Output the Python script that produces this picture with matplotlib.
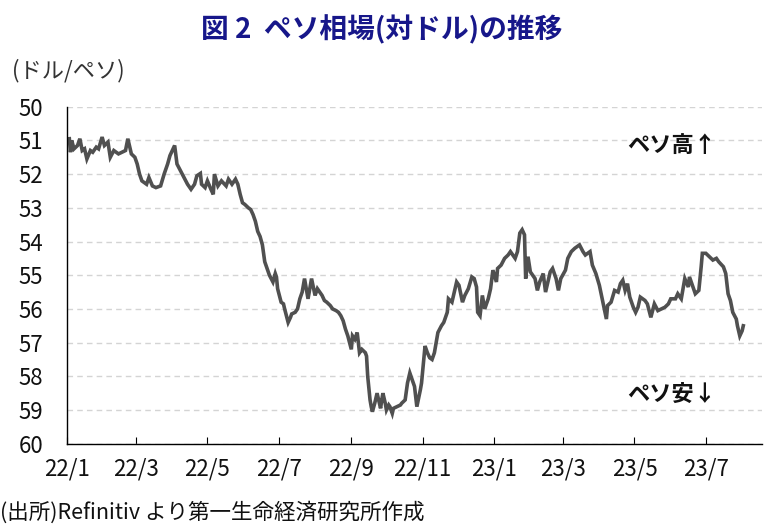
import matplotlib
matplotlib.use("Agg")

import matplotlib.pyplot as plt
import pandas as pd

plt.rcParams["font.family"] = ["Noto Sans CJK JP", "DejaVu Sans"]

# USD/PHP (peso per dollar)
DATES = [
    "2022-01-03", "2022-01-04", "2022-01-05", "2022-01-07", "2022-01-10", "2022-01-12",
    "2022-01-14", "2022-01-16", "2022-01-18", "2022-01-21", "2022-01-23", "2022-01-26",
    "2022-01-28", "2022-01-31", "2022-02-02", "2022-02-05", "2022-02-07", "2022-02-10",
    "2022-02-14", "2022-02-17", "2022-02-20", "2022-02-22", "2022-02-25", "2022-02-28",
    "2022-03-02", "2022-03-04", "2022-03-06", "2022-03-10", "2022-03-12", "2022-03-15",
    "2022-03-18", "2022-03-22", "2022-03-25", "2022-03-28", "2022-03-30", "2022-04-03",
    "2022-04-05", "2022-04-08", "2022-04-11", "2022-04-14", "2022-04-17", "2022-04-20",
    "2022-04-22", "2022-04-25", "2022-04-26", "2022-04-29", "2022-05-01", "2022-05-04",
    "2022-05-06", "2022-05-07", "2022-05-10", "2022-05-13", "2022-05-17", "2022-05-19",
    "2022-05-22", "2022-05-25", "2022-05-27", "2022-05-29", "2022-05-31", "2022-06-02",
    "2022-06-05", "2022-06-07", "2022-06-09", "2022-06-11", "2022-06-13", "2022-06-15",
    "2022-06-17", "2022-06-19", "2022-06-22", "2022-06-23", "2022-06-26", "2022-06-28",
    "2022-06-29", "2022-06-30", "2022-07-03", "2022-07-05", "2022-07-06", "2022-07-09",
    "2022-07-11", "2022-07-12", "2022-07-15", "2022-07-17", "2022-07-19", "2022-07-21",
    "2022-07-23", "2022-07-26", "2022-07-28", "2022-07-29", "2022-08-01", "2022-08-03",
    "2022-08-05", "2022-08-07", "2022-08-09", "2022-08-11", "2022-08-14", "2022-08-16",
    "2022-08-19", "2022-08-21", "2022-08-23", "2022-08-25", "2022-08-27", "2022-08-29",
    "2022-09-01", "2022-09-02", "2022-09-04", "2022-09-06", "2022-09-08", "2022-09-10",
    "2022-09-13", "2022-09-14", "2022-09-15", "2022-09-17", "2022-09-18", "2022-09-19",
    "2022-09-21", "2022-09-23", "2022-09-25", "2022-09-26", "2022-09-27", "2022-09-28",
    "2022-09-30", "2022-10-01", "2022-10-03", "2022-10-04", "2022-10-06", "2022-10-07",
    "2022-10-10", "2022-10-13", "2022-10-14", "2022-10-17", "2022-10-19", "2022-10-21",
    "2022-10-23", "2022-10-25", "2022-10-27", "2022-10-30", "2022-10-31", "2022-11-03",
    "2022-11-05", "2022-11-07", "2022-11-09", "2022-11-11", "2022-11-14", "2022-11-17",
    "2022-11-19", "2022-11-22", "2022-11-23", "2022-11-26", "2022-11-28", "2022-11-30",
    "2022-12-02", "2022-12-05", "2022-12-07", "2022-12-10", "2022-12-13", "2022-12-15",
    "2022-12-17", "2022-12-18", "2022-12-20", "2022-12-22", "2022-12-24", "2022-12-27",
    "2022-12-29", "2022-12-31", "2023-01-03", "2023-01-04", "2023-01-07", "2023-01-10",
    "2023-01-13", "2023-01-15", "2023-01-19", "2023-01-21", "2023-01-23", "2023-01-25",
    "2023-01-27", "2023-01-28", "2023-01-30", "2023-02-01", "2023-02-05", "2023-02-07",
    "2023-02-09", "2023-02-12", "2023-02-14", "2023-02-18", "2023-02-20", "2023-02-23",
    "2023-02-25", "2023-02-27", "2023-03-03", "2023-03-05", "2023-03-08", "2023-03-11",
    "2023-03-15", "2023-03-18", "2023-03-20", "2023-03-24", "2023-03-26", "2023-03-29",
    "2023-04-01", "2023-04-04", "2023-04-07", "2023-04-08", "2023-04-11", "2023-04-14",
    "2023-04-17", "2023-04-19", "2023-04-21", "2023-04-23", "2023-04-25", "2023-04-27",
    "2023-04-30", "2023-05-02", "2023-05-04", "2023-05-06", "2023-05-10", "2023-05-12",
    "2023-05-15", "2023-05-18", "2023-05-21", "2023-05-24", "2023-05-27", "2023-05-30",
    "2023-06-01", "2023-06-05", "2023-06-07", "2023-06-10", "2023-06-13", "2023-06-16",
    "2023-06-17", "2023-06-20", "2023-06-22", "2023-06-25", "2023-06-27", "2023-06-28",
    "2023-07-01", "2023-07-04", "2023-07-07", "2023-07-10", "2023-07-12", "2023-07-16",
    "2023-07-18", "2023-07-20", "2023-07-22", "2023-07-24", "2023-07-27", "2023-07-28",
    "2023-07-30", "2023-08-01", "2023-08-02",
]
RATES = [
    50.95, 51.35, 51.00, 51.25, 51.15, 50.95,
    51.30, 51.25, 51.55, 51.30, 51.35, 51.20,
    51.25, 50.90, 51.15, 51.05, 51.50, 51.30,
    51.40, 51.35, 51.30, 50.95, 51.40, 51.50,
    51.70, 52.00, 52.20, 52.30, 52.10, 52.35,
    52.40, 52.35, 52.00, 51.70, 51.45, 51.15,
    51.70, 51.90, 52.10, 52.30, 52.45, 52.30,
    52.05, 51.98, 52.30, 52.40, 52.20, 52.45,
    52.60, 52.00, 52.35, 52.20, 52.35, 52.15,
    52.30, 52.15, 52.30, 52.60, 52.85, 52.90,
    53.00, 53.05, 53.20, 53.40, 53.70, 53.85,
    54.10, 54.60, 54.90, 55.00, 55.20, 54.95,
    55.05, 55.40, 55.80, 55.85, 56.00, 56.40,
    56.25, 56.15, 56.10, 56.00, 55.70, 55.50,
    55.10, 55.70, 55.30, 55.10, 55.60, 55.40,
    55.50, 55.60, 55.75, 55.80, 55.90, 56.00,
    56.05, 56.10, 56.20, 56.35, 56.60, 56.80,
    57.20, 56.80, 56.90, 56.70, 57.30, 57.20,
    57.30, 57.40, 58.00, 58.70, 58.90, 59.05,
    58.80, 58.50, 58.80, 58.95, 58.70, 58.50,
    58.80, 59.00, 58.85, 58.90, 59.10, 58.95,
    58.90, 58.85, 58.80, 58.70, 58.20, 57.90,
    58.10, 58.30, 58.90, 58.40, 58.20, 57.10,
    57.30, 57.45, 57.50, 57.30, 56.70, 56.50,
    56.40, 56.10, 55.70, 55.80, 55.50, 55.20,
    55.30, 55.80, 55.60, 55.40, 55.05, 55.10,
    55.35, 56.10, 56.20, 55.60, 56.00, 55.70,
    55.40, 54.85, 55.20, 54.80, 54.70, 54.50,
    54.40, 54.30, 54.50, 54.30, 53.75, 53.65,
    53.80, 55.10, 54.45, 54.90, 55.10, 55.45,
    55.20, 54.95, 55.50, 54.90, 54.80, 55.10,
    55.45, 55.10, 54.85, 54.50, 54.30, 54.20,
    54.10, 54.30, 54.40, 54.30, 54.70, 54.95,
    55.30, 55.80, 56.30, 55.90, 55.80, 55.45,
    55.50, 55.25, 55.15, 55.45, 55.25, 55.65,
    55.95, 56.10, 55.95, 55.65, 55.75, 55.85,
    56.25, 55.85, 56.05, 56.00, 55.95, 55.85,
    55.70, 55.70, 55.55, 55.70, 55.10, 55.35,
    55.05, 55.35, 55.55, 55.45, 54.75, 54.35,
    54.35, 54.45, 54.55, 54.50, 54.60, 54.75,
    54.95, 55.55, 55.75, 56.10, 56.30, 56.50,
    56.80, 56.65, 56.50,
]

TICK_DATES = ["2022-01-01", "2022-03-01", "2022-05-01", "2022-07-01", "2022-09-01",
              "2022-11-01", "2023-01-01", "2023-03-01", "2023-05-01", "2023-07-01"]
TICK_LABELS = ["22/1", "22/3", "22/5", "22/7", "22/9", "22/11", "23/1", "23/3", "23/5", "23/7"]
Y_TICKS = list(range(50, 61))

x = pd.to_datetime(DATES)

fig = plt.figure(figsize=(7.64, 5.27), dpi=100)
ax = fig.add_axes([0.0877, 0.158, 0.9097, 0.6395])

ax.plot(x, RATES, color="#505050", linewidth=2.6, solid_joinstyle="miter")

ax.set_ylim(60, 50)
ax.set_yticks(Y_TICKS)
ax.set_xlim(pd.Timestamp("2022-01-01"), pd.Timestamp("2023-08-18"))
ax.set_xticks(pd.to_datetime(TICK_DATES))
ax.set_xticklabels(TICK_LABELS)

ax.grid(axis="y", linestyle=(0, (4, 3)), color="#d4d4d4", linewidth=1.0)
ax.set_axisbelow(True)
for side in ("top", "right"):
    ax.spines[side].set_visible(False)
for side in ("left", "bottom"):
    ax.spines[side].set_color("black")
    ax.spines[side].set_linewidth(1.0)

ax.tick_params(axis="y", length=0, pad=17, labelsize=16, labelcolor="#111111")
ax.tick_params(axis="x", direction="in", length=5, width=0.8, pad=10, labelsize=16,
               labelcolor="#111111")

fig.text(0.4995, 0.944, "図 2  ペソ相場(対ドル)の推移", ha="center", va="center",
         fontsize=20, fontweight="bold", color="#17178a")
fig.text(0.016, 0.866, "(ドル/ペソ)", ha="left", va="center", fontsize=16, color="#333333")
fig.text(0.0, 0.027, "(出所)Refinitiv より第一生命経済研究所作成", ha="left", va="center",
         fontsize=15.5, color="#111111")

ax.text(0.87, 0.886, "ペソ高↑", transform=ax.transAxes, ha="center", va="center",
        fontsize=16, fontweight="bold", color="#111111")
ax.text(0.87, 0.145, "ペソ安↓", transform=ax.transAxes, ha="center", va="center",
        fontsize=16, fontweight="bold", color="#111111")

fig.savefig("out.png", dpi=100)
